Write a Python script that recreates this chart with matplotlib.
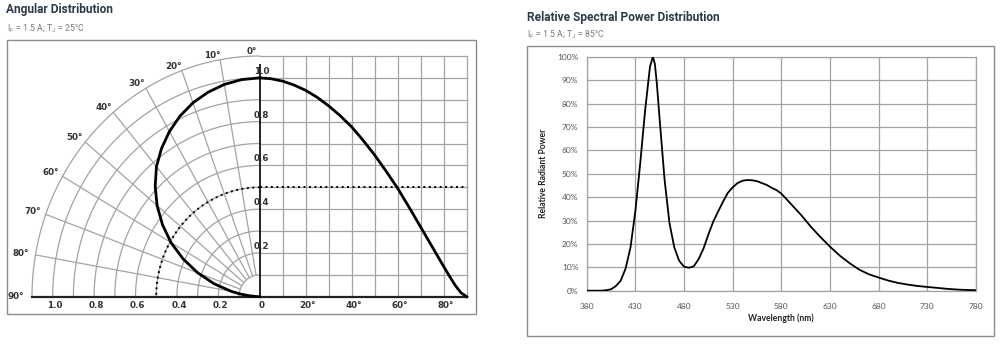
import numpy as np
import matplotlib
matplotlib.use("Agg")
import matplotlib.pyplot as plt
from matplotlib.patches import Rectangle

# ---------------- data ----------------
# Angular distribution: relative intensity vs angle (deg)
angles_deg = [0, 5, 10, 15, 20, 25, 30, 35, 40, 45, 50, 55, 60, 65, 70, 75, 80,
              82.5, 85, 87.5, 90]
intensity = [1.0, 0.996, 0.985, 0.967, 0.943, 0.911, 0.872, 0.827, 0.776, 0.714,
             0.647, 0.573, 0.495, 0.408, 0.318, 0.228, 0.138, 0.094, 0.052, 0.018, 0.0]
half_level = 0.5
polar_tick_angles = [0, 10, 20, 30, 40, 50, 60, 70, 80, 90]
polar_r_labels = ["1.0", "0.8", "0.6", "0.4", "0.2", "0"]
polar_r_values = [1.0, 0.8, 0.6, 0.4, 0.2, 0.0]
cart_angle_labels = ["20°", "40°", "60°", "80°"]
cart_angle_values = [20, 40, 60, 80]

# Spectral power distribution
wavelength = [380, 385, 390, 395, 400, 405, 410, 415, 420, 425, 430, 435, 440, 445, 448,
              450, 452, 455, 460, 465, 470, 475, 480, 485, 490, 495, 500, 505, 510, 515,
              520, 525, 530, 535, 540, 545, 550, 555, 560, 565, 570, 575, 580, 590, 600,
              610, 620, 630, 640, 650, 660, 670, 680, 690, 700, 710, 720, 730, 740, 750,
              760, 770, 780]
power_pct = [0, 0, 0, 0, 0.2, 0.6, 2, 4.3, 9.5, 18.5, 34, 54.5, 77, 95.7, 100,
             97, 89, 73, 47.5, 29, 18.5, 12.8, 10.3, 9.8, 10.4, 13.5, 18, 24, 29.5, 33.8,
             38, 41.8, 44.2, 46, 47, 47.3, 47.2, 46.8, 46, 45.2, 44, 43, 41.5, 37, 32.5,
             27.5, 23, 18.8, 15, 11.8, 9, 7, 5.6, 4.3, 3.3, 2.6, 2.0, 1.6, 1.2, 0.8,
             0.5, 0.3, 0.2]
wl_ticks = [380, 430, 480, 530, 580, 630, 680, 730, 780]
pct_ticks = list(range(0, 101, 10))

# ---------------- figure ----------------
fig = plt.figure(figsize=(10, 3.44), dpi=100)

GRID = "#a3a3a3"
FRAME = "#8c8c8c"
TITLE_C = "#2e3a48"
SUB_C = "#7a7a7a"

# panel frames
fig.add_artist(Rectangle((0.007, 0.0872), 0.469, 0.7965, transform=fig.transFigure,
                         fill=False, edgecolor=FRAME, linewidth=1.0))
fig.add_artist(Rectangle((0.527, 0.0233), 0.467, 0.843, transform=fig.transFigure,
                         fill=False, edgecolor=FRAME, linewidth=1.0))

# titles
fig.text(0.006, 1 - 10 / 344, "Angular Distribution", fontsize=8.6, fontweight="bold",
         family="Roboto", color=TITLE_C, va="center", ha="left")
fig.text(0.007, 1 - 28 / 344, r"I$_\mathregular{F}$ = 1.5 A; T$_\mathregular{J}$ = 25°C",
         fontsize=6.3, family="Roboto", color=SUB_C, va="center", ha="left")
fig.text(0.527, 1 - 17 / 344, "Relative Spectral Power Distribution", fontsize=8.6,
         fontweight="bold", family="Roboto", color=TITLE_C, va="center", ha="left")
fig.text(0.527, 1 - 33.5 / 344, r"I$_\mathregular{F}$ = 1.5 A; T$_\mathregular{J}$ = 85°C",
         fontsize=6.3, family="Roboto", color=SUB_C, va="center", ha="left")

# ---------------- angular axes ----------------
ax1 = fig.add_axes([0.032, 0.1375, 0.4347, 0.6997])
ax1.set_xlim(-1.1, 1.0)
ax1.set_ylim(0, 1.1)
ax1.axis("off")

th = np.radians(np.linspace(0, 90, 181))
# polar circles
for k in range(1, 12):
    r = k / 10
    ax1.plot(-r * np.sin(th), r * np.cos(th), color=GRID, lw=0.9, clip_on=False, zorder=1)
# radial lines
for a in range(10, 90, 10):
    t = np.radians(a)
    ax1.plot([-0.1 * np.sin(t), -1.1 * np.sin(t)], [0.1 * np.cos(t), 1.1 * np.cos(t)],
             color=GRID, lw=0.9, clip_on=False, zorder=1)
# cartesian grid on the right half
for k in range(1, 10):
    ax1.plot([k / 9, k / 9], [0, 1.1], color=GRID, lw=0.9, clip_on=False, zorder=1)
for k in range(1, 12):
    ax1.plot([0, 1.0], [k / 10, k / 10], color=GRID, lw=0.9, clip_on=False, zorder=1)

# axes lines
ax1.plot([-1.1, 1.0], [0, 0], color="#222222", lw=1.6, clip_on=False, zorder=3)
ax1.plot([0, 0], [0, 1.06], color="#222222", lw=1.4, clip_on=False, zorder=3)

# half level (dotted)
ax1.plot(-half_level * np.sin(th), half_level * np.cos(th), color="black", lw=1.4,
         ls=(0, (1, 1.8)), clip_on=False, zorder=4)
ax1.plot([0, 1.0], [half_level, half_level], color="black", lw=1.4,
         ls=(0, (1, 1.8)), clip_on=False, zorder=4)

# intensity curves
a_rad = np.radians(angles_deg)
inten = np.array(intensity)
ax1.plot(-inten * np.sin(a_rad), inten * np.cos(a_rad), color="black", lw=2.0,
         clip_on=False, zorder=5, solid_joinstyle="round")
ax1.plot(np.array(angles_deg) / 90.0, inten, color="black", lw=2.0, clip_on=False,
         zorder=5, solid_joinstyle="round")

# labels
lab_kw = dict(fontsize=6.3, fontweight="bold", family="DejaVu Sans", color="#333333",
              ha="center", va="center", clip_on=False)
for a in polar_tick_angles:
    rr = 1.12 + 0.06 * a / 90
    aa = np.radians(a + 2 * (1 - a / 90))
    ax1.text(-rr * np.sin(aa), rr * np.cos(aa), f"{a}°", **lab_kw)
for lab, v in zip(polar_r_labels, polar_r_values):
    ax1.text(-v + 0.01, -0.038, lab, **lab_kw)
for lab, v in zip(cart_angle_labels, cart_angle_values):
    ax1.text(v / 90 + 0.01, -0.038, lab, **lab_kw)
for lab, v in zip(polar_r_labels[:-1], polar_r_values[:-1]):
    ax1.text(0.01, v + 0.03, lab, **lab_kw)

# ---------------- spectral axes ----------------
ax2 = fig.add_axes([0.5867, 0.155, 0.3893, 0.680])
ax2.plot(wavelength, power_pct, color="black", lw=1.3, zorder=3)
ax2.set_xlim(380, 780)
ax2.set_ylim(0, 100)
ax2.set_xticks(wl_ticks)
ax2.set_yticks(pct_ticks)
ax2.set_yticklabels([f"{v}%" for v in pct_ticks])
ax2.grid(True, color=GRID, lw=0.9)
ax2.set_axisbelow(True)
for s in ax2.spines.values():
    s.set_color(GRID)
    s.set_linewidth(0.9)
ax2.tick_params(length=0, labelsize=6, colors="#555555", pad=6)
ax2.tick_params(axis="x", pad=9)
for t in ax2.get_xticklabels() + ax2.get_yticklabels():
    t.set_family("Lato")
ax2.set_xlabel("Wavelength (nm)", fontsize=6.2, fontweight="bold", family="Lato",
               color="#222222", labelpad=2.5)
ax2.set_ylabel("Relative Radiant Power", fontsize=6.2, fontweight="bold", family="Lato",
               color="#222222", labelpad=6.5)

fig.savefig("out.png", dpi=100)
